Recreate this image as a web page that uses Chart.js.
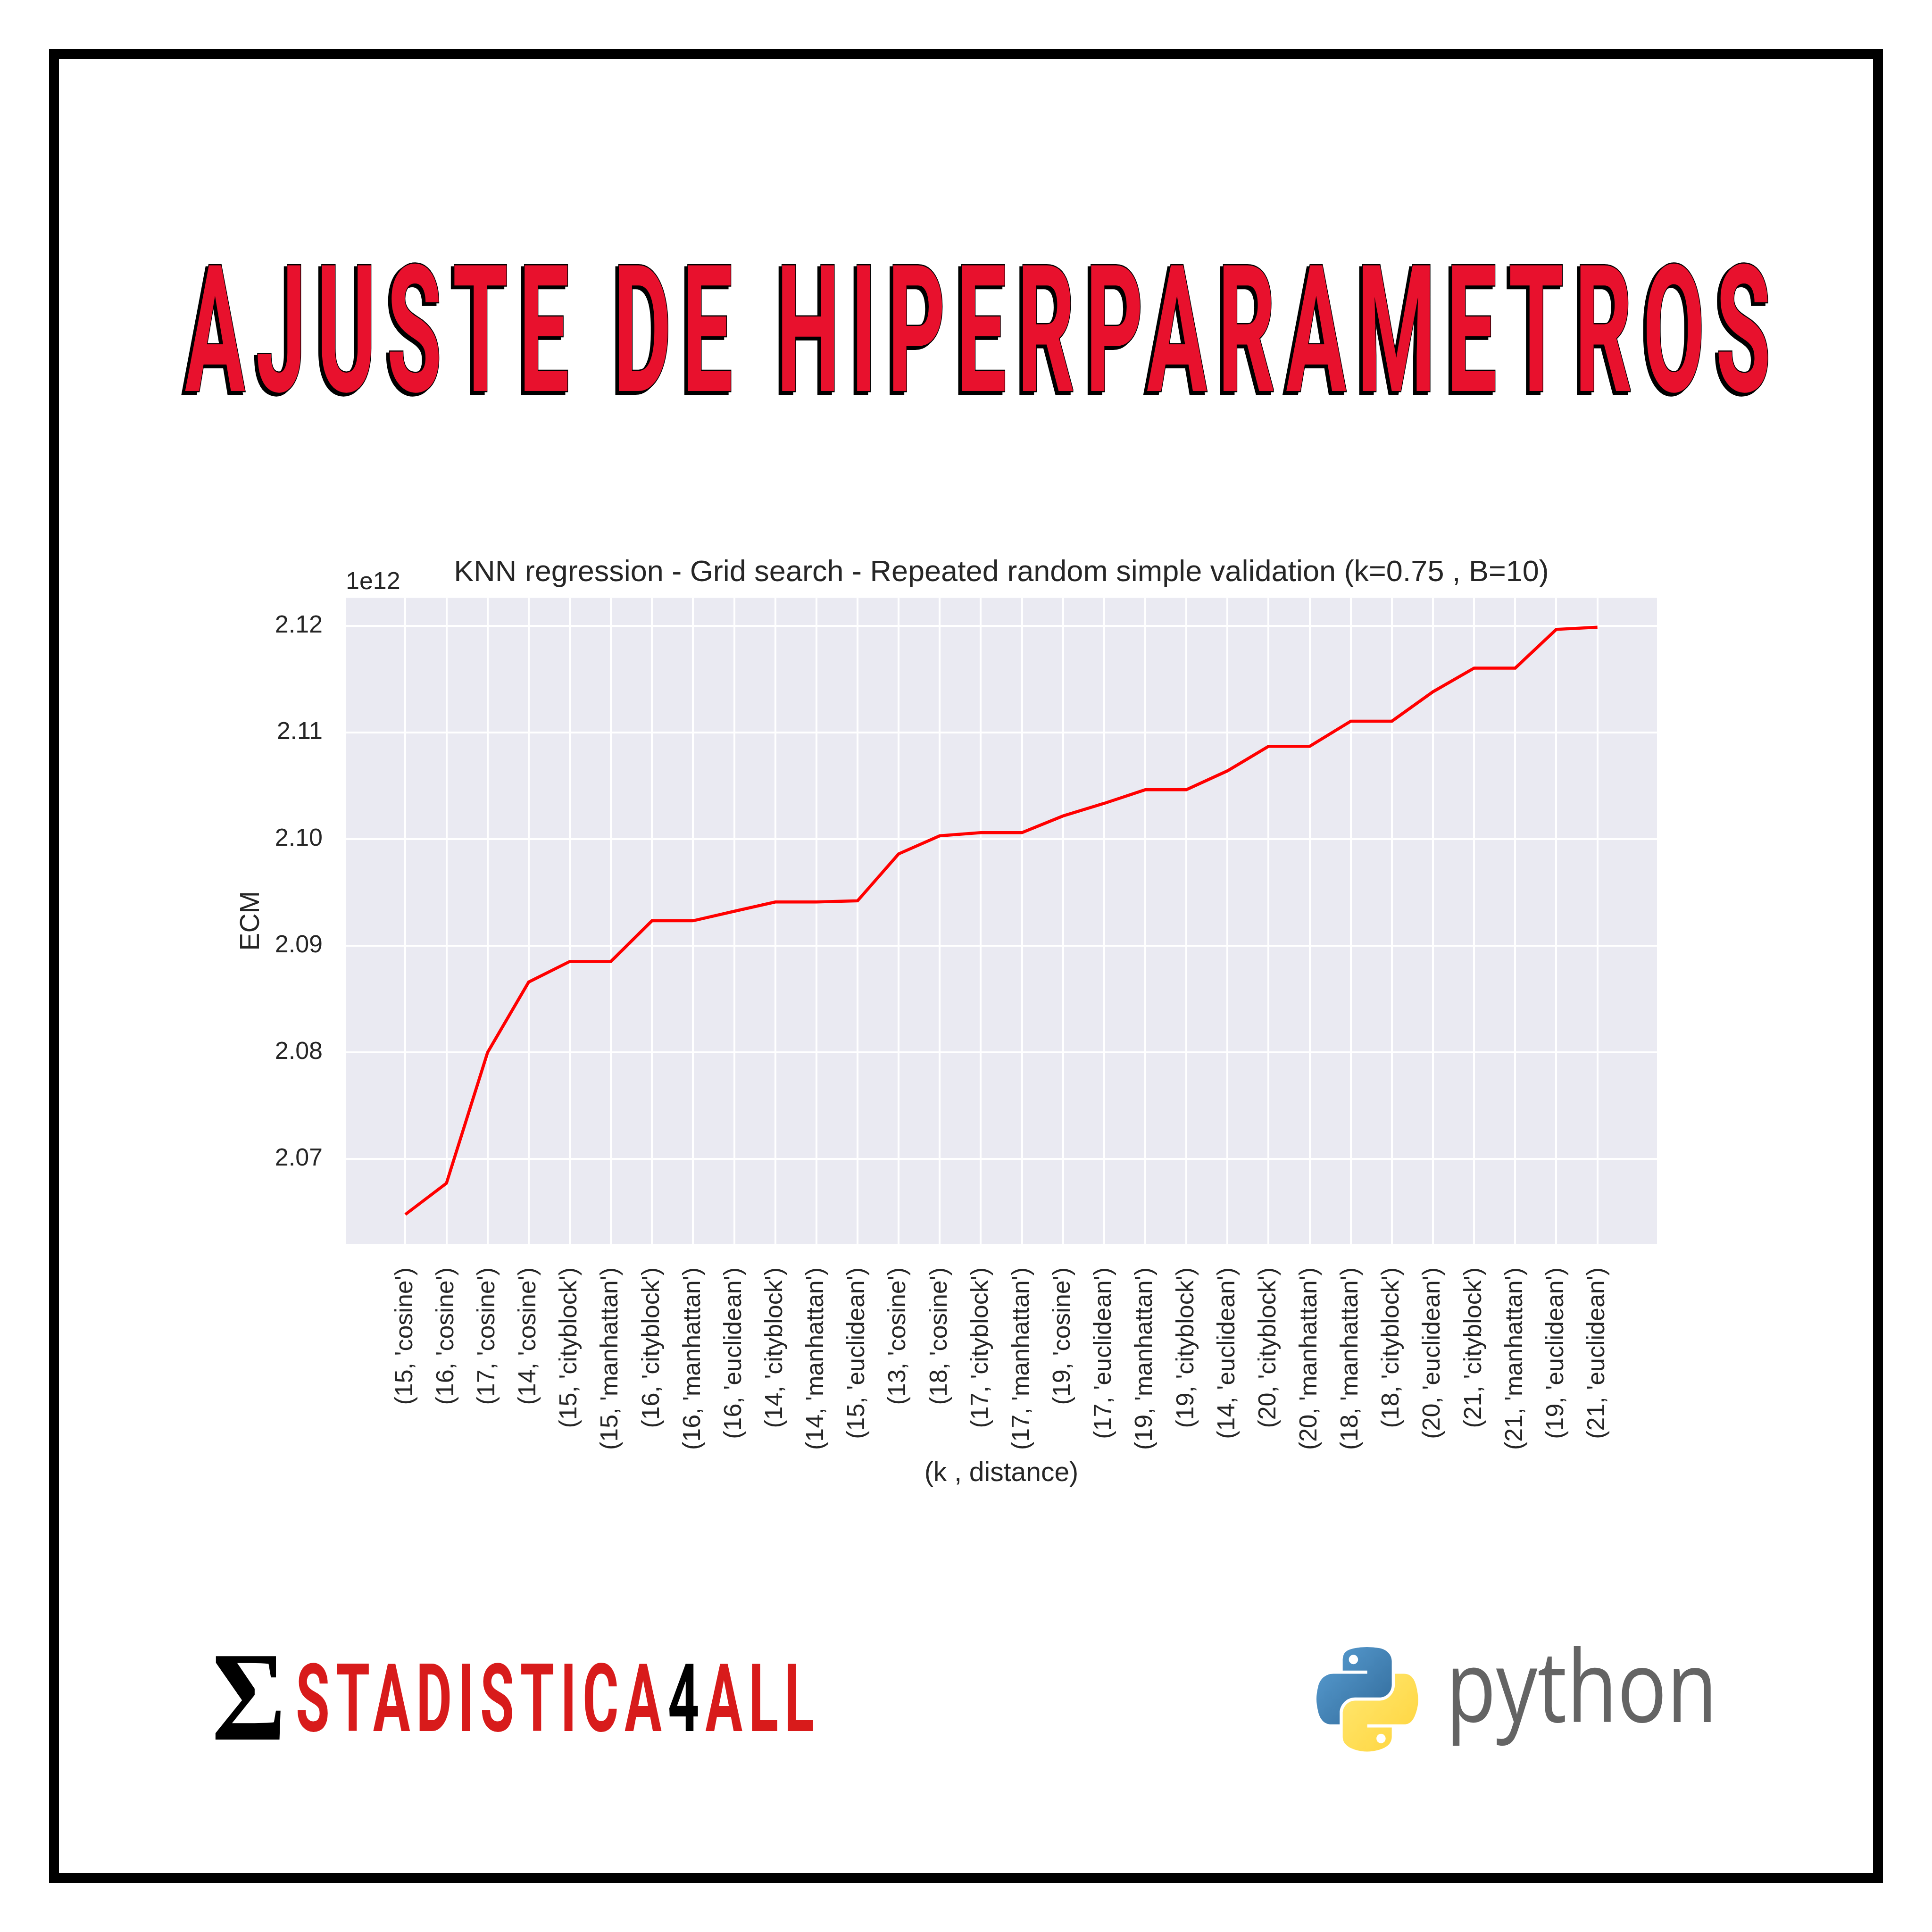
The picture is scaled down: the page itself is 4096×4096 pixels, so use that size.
<!DOCTYPE html>
<html>
<head>
<meta charset="utf-8">
<script src="https://cdn.jsdelivr.net/npm/chart.js@4/dist/chart.umd.min.js"></script>
<style>
  html, body { margin: 0; padding: 0; background: #ffffff; }
  body { width: 4096px; height: 4096px; position: relative; overflow: hidden; }
  #frame { position: absolute; left: 104px; top: 104px; width: 3846px; height: 3846px; border: 21px solid #000; }
  #deco { position: absolute; left: 0; top: 0; }
  #chartBox { position: absolute; left: 400px; top: 1150px; width: 3200px; height: 2100px; }
</style>
</head>
<body>
<div id="frame"></div>
<svg id="deco" width="4096" height="4096" viewBox="0 0 4096 4096" xmlns="http://www.w3.org/2000/svg">
  <defs>
    <linearGradient id="gBlue" x1="0" y1="0" x2="1" y2="1">
      <stop offset="0" stop-color="#5A9FD4"/>
      <stop offset="1" stop-color="#306998"/>
    </linearGradient>
    <linearGradient id="gYellow" x1="0" y1="0" x2="1" y2="1">
      <stop offset="0" stop-color="#FFE873"/>
      <stop offset="1" stop-color="#FFD43B"/>
    </linearGradient>
  </defs>
  <!-- main title -->
  <g font-family="Roboto,'Liberation Sans',sans-serif" font-weight="700" font-size="375" letter-spacing="45">
    <text x="386" y="834" textLength="3385" lengthAdjust="spacingAndGlyphs" fill="#000" stroke="#000" stroke-width="6">AJUSTE DE HIPERPARAMETROS</text>
    <text x="392" y="829" textLength="3385" lengthAdjust="spacingAndGlyphs" fill="#E8112D" stroke="#000" stroke-width="5" paint-order="stroke">AJUSTE DE HIPERPARAMETROS</text>
  </g>
  <!-- Estadistica4all logo -->
  <text x="449" y="3688" font-family="'Liberation Serif','DejaVu Serif',serif" font-weight="bold" font-size="270" textLength="157" lengthAdjust="spacingAndGlyphs" fill="#000">Σ</text>
  <text x="627" y="3670" font-family="Roboto,'DejaVu Sans Condensed',sans-serif" font-weight="700" font-size="200" letter-spacing="22" textLength="1112" lengthAdjust="spacingAndGlyphs" fill="#D81B1B">STADISTICA<tspan fill="#000">4</tspan>ALL</text>
  <!-- python logo -->
  <g transform="translate(2791,3492) scale(1.94,1.97)">
    <path fill="url(#gBlue)" d="M 54.918785,0.00091927389 C 50.335132,0.02221727 45.957846,0.41313697 42.106285,1.0946693 30.760069,3.0991731 28.700036,7.2947714 28.700035,15.032169 v 10.21875 h 26.8125 v 3.40625 h -26.8125 -10.0625 c -7.792459,0 -14.6157588,4.683717 -16.7499998,13.59375 -2.46181998,10.212966 -2.57101508,16.586023 0,27.25 1.9059283,7.937852 6.4575432,13.593748 14.2499998,13.59375 h 9.21875 v -12.25 c 0,-8.849902 7.657144,-16.656248 16.75,-16.65625 h 26.78125 c 7.454951,0 13.406253,-6.138164 13.40625,-13.625 v -25.53125 c 0,-7.2663386 -6.12998,-12.7247771 -13.40625,-13.9374997 C 64.281548,0.32794397 59.502438,-0.02037903 54.918785,0.00091927389 Z m -14.5,8.21875012611 c 2.769547,0 5.03125,2.2986456 5.03125,5.1249996 -0.000002,2.816336 -2.261703,5.09375 -5.03125,5.09375 -2.779476,-0.000001 -5.03125,-2.277415 -5.03125,-5.09375 -0.000001,-2.826353 2.251774,-5.1249996 5.03125,-5.1249996 z"/>
    <path fill="url(#gYellow)" d="m 85.637535,28.657169 v 11.90625 c 0,9.230755 -7.825895,16.999999 -16.75,17 h -26.78125 c -7.335833,0 -13.406249,6.278483 -13.40625,13.625 v 25.531247 c 0,7.266344 6.318588,11.540324 13.40625,13.625004 8.487331,2.49561 16.626237,2.94663 26.78125,0 6.750155,-1.95439 13.406253,-5.88761 13.40625,-13.625004 V 86.500919 h -26.78125 v -3.40625 h 26.78125 13.406254 c 7.792461,0 10.696251,-5.435408 13.406241,-13.59375 2.79933,-8.398886 2.68022,-16.475776 0,-27.25 -1.92578,-7.757441 -5.60387,-13.59375 -13.406241,-13.59375 z m -15.0625,64.65625 c 2.779478,0.000003 5.03125,2.277417 5.03125,5.093747 -0.000002,2.826354 -2.251775,5.125004 -5.03125,5.125004 -2.76955,0 -5.03125,-2.29865 -5.03125,-5.125004 0.000002,-2.81633 2.2617,-5.093747 5.03125,-5.093747 z"/>
  </g>
  <text x="3065" y="3651" font-family="'Open Sans','DejaVu Sans',sans-serif" font-weight="400" font-size="210" textLength="576" lengthAdjust="spacingAndGlyphs" fill="#646464">python</text>
</svg>
<div id="chartBox"><canvas id="c" width="3200" height="2100"></canvas></div>
<script>
// ---- data ----
const categories = [
  "(15, 'cosine')", "(16, 'cosine')", "(17, 'cosine')", "(14, 'cosine')",
  "(15, 'cityblock')", "(15, 'manhattan')", "(16, 'cityblock')", "(16, 'manhattan')",
  "(16, 'euclidean')", "(14, 'cityblock')", "(14, 'manhattan')", "(15, 'euclidean')",
  "(13, 'cosine')", "(18, 'cosine')", "(17, 'cityblock')", "(17, 'manhattan')",
  "(19, 'cosine')", "(17, 'euclidean')", "(19, 'manhattan')", "(19, 'cityblock')",
  "(14, 'euclidean')", "(20, 'cityblock')", "(20, 'manhattan')", "(18, 'manhattan')",
  "(18, 'cityblock')", "(20, 'euclidean')", "(21, 'cityblock')", "(21, 'manhattan')",
  "(19, 'euclidean')", "(21, 'euclidean')"
];
const ecmValues = [
  2.06478e12, 2.06771e12, 2.07997e12, 2.08658e12,
  2.08851e12, 2.08851e12, 2.09233e12, 2.09233e12,
  2.09322e12, 2.09409e12, 2.09409e12, 2.09420e12,
  2.09860e12, 2.10030e12, 2.10060e12, 2.10060e12,
  2.10216e12, 2.10334e12, 2.10462e12, 2.10462e12,
  2.10639e12, 2.10869e12, 2.10869e12, 2.11105e12,
  2.11105e12, 2.11381e12, 2.11603e12, 2.11603e12,
  2.11966e12, 2.11986e12
];
const yTickValues = [2.07e12, 2.08e12, 2.09e12, 2.10e12, 2.11e12, 2.12e12];
const yTickLabels = ["2.07", "2.08", "2.09", "2.10", "2.11", "2.12"];
const chartTitle = "KNN regression - Grid search - Repeated random simple validation (k=0.75 , B=10)";
const xAxisTitle = "(k , distance)";
const yAxisTitle = "ECM";
const offsetText = "1e12";

// ---- chart ----
const TXT = '#262626';
const FONT = "'Liberation Sans', Arial, sans-serif";
const points = ecmValues.map((v, i) => ({ x: i, y: v }));
const yMinData = Math.min(...ecmValues), yMaxData = Math.max(...ecmValues);
const yPad = (yMaxData - yMinData) * 0.05;
const xPad = (categories.length - 1) * 0.05;

const bgPlugin = {
  id: 'bg',
  beforeDraw(chart) {
    const { ctx, chartArea: a } = chart;
    ctx.save();
    ctx.fillStyle = '#EAEAF2';
    ctx.fillRect(a.left, a.top, a.right - a.left, a.bottom - a.top);
    ctx.restore();
  },
  afterDraw(chart) {
    const { ctx, chartArea: a } = chart;
    ctx.save();
    ctx.fillStyle = TXT;
    ctx.font = "52px " + FONT;
    ctx.textAlign = 'left';
    ctx.textBaseline = 'alphabetic';
    ctx.fillText(offsetText, a.left, a.top - 19);
    ctx.restore();
  }
};

new Chart(document.getElementById('c'), {
  type: 'line',
  data: {
    datasets: [{
      data: points,
      borderColor: '#FF0000',
      borderWidth: 6.5,
      pointRadius: 0,
      tension: 0,
      fill: false
    }]
  },
  options: {
    responsive: false,
    animation: false,
    devicePixelRatio: 1,
    layout: { padding: { left: 0, top: 0, right: 87, bottom: 0 } },
    plugins: {
      legend: { display: false },
      tooltip: { enabled: false },
      title: {
        display: true,
        text: chartTitle,
        color: TXT,
        fullSize: false,
        font: { family: FONT, size: 63, weight: 'normal', lineHeight: 1.2 },
        padding: { top: 27, bottom: 15 }
      }
    },
    scales: {
      x: {
        type: 'linear',
        min: -xPad,
        max: categories.length - 1 + xPad,
        afterBuildTicks(s) { s.ticks = categories.map((c, i) => ({ value: i })); },
        afterFit(s) { s.height = 613; },
        border: { display: false },
        grid: { color: '#FFFFFF', lineWidth: 4, drawTicks: false },
        ticks: {
          autoSkip: false,
          minRotation: 90,
          maxRotation: 90,
          padding: 50,
          color: TXT,
          font: { family: FONT, size: 52 },
          callback: (v) => categories[v]
        },
        title: {
          display: true,
          text: xAxisTitle,
          color: TXT,
          font: { family: FONT, size: 57, lineHeight: 1.2 },
          padding: { top: 0, bottom: 92 }
        }
      },
      y: {
        type: 'linear',
        min: yMinData - yPad,
        max: yMaxData + yPad,
        afterBuildTicks(s) { s.ticks = yTickValues.map(v => ({ value: v })); },
        afterFit(s) { s.width = 333; },
        border: { display: false },
        grid: { color: '#FFFFFF', lineWidth: 4, drawTicks: false },
        ticks: {
          padding: 49,
          color: TXT,
          font: { family: FONT, size: 52 },
          callback: (v) => yTickLabels[yTickValues.indexOf(v)]
        },
        title: {
          display: true,
          text: yAxisTitle,
          color: TXT,
          font: { family: FONT, size: 57, lineHeight: 1.2 },
          padding: { top: 99, bottom: 0 }
        }
      }
    }
  },
  plugins: [bgPlugin]
});
</script>
</body>
</html>
